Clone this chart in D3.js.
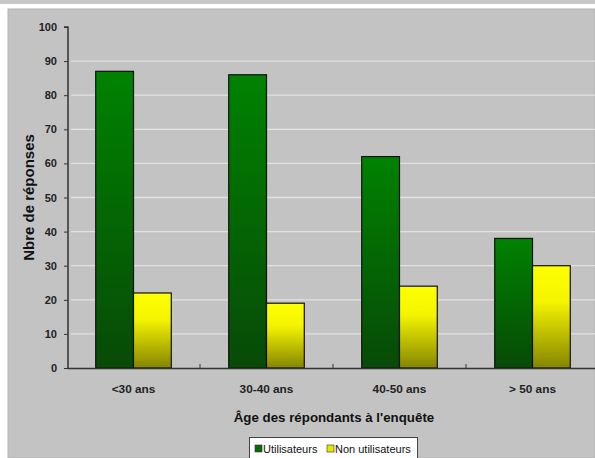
<!DOCTYPE html>
<html>
<head>
<meta charset="utf-8">
<script src="https://cdn.jsdelivr.net/npm/d3@7"></script>
<style>
  html, body { margin: 0; padding: 0; background: #ffffff; }
  svg { display: block; font-family: "Liberation Sans", Arial, sans-serif; }
</style>
</head>
<body>
<svg id="chart" width="595" height="458"></svg>
<script>
const categories = ["<30 ans", "30-40 ans", "40-50 ans", "> 50 ans"];
const seriesNames = ["Utilisateurs", "Non utilisateurs"];
const utilisateurs = [87, 86, 62, 38];
const nonUtilisateurs = [22, 19, 24, 30];
const yTicks = [0, 10, 20, 30, 40, 50, 60, 70, 80, 90, 100];
const xTitle = "Âge des répondants à l'enquête";
const yTitle = "Nbre de réponses";

const W = 595, H = 458;
const svg = d3.select("#chart");

// outer frame
svg.append("rect").attr("x", 0).attr("y", 0).attr("width", W).attr("height", 4).attr("fill", "#c6c6c6");
svg.append("rect").attr("x", 8).attr("y", 9).attr("width", W - 8).attr("height", H - 9)
  .attr("fill", "#c3c3c3").attr("stroke", "#b3b3b3").attr("stroke-width", 1);

const plotL = 68, plotR = 600, plotT = 27, plotB = 368;

const defs = svg.append("defs");
const gG = defs.append("linearGradient").attr("id", "gGreen").attr("x1", 0).attr("y1", 0).attr("x2", 0).attr("y2", 1);
gG.append("stop").attr("offset", "0%").attr("stop-color", "#008200");
gG.append("stop").attr("offset", "100%").attr("stop-color", "#074a07");
const gY = defs.append("linearGradient").attr("id", "gYellow").attr("x1", 0).attr("y1", 0).attr("x2", 0).attr("y2", 1);
gY.append("stop").attr("offset", "0%").attr("stop-color", "#ffff00");
gY.append("stop").attr("offset", "35%").attr("stop-color", "#f4f400");
gY.append("stop").attr("offset", "100%").attr("stop-color", "#858500");

const fills = ["url(#gGreen)", "url(#gYellow)"];
const legendColors = ["#0a6a0a", "#e6e600"];

const x0 = d3.scaleBand().domain(categories).range([plotL, plotR]).paddingInner(0).paddingOuter(0);
const x1 = d3.scaleBand().domain(seriesNames).range([0, x0.bandwidth()]).paddingInner(0).paddingOuter(0.76);
const y = d3.scaleLinear().domain([0, 100]).range([plotB, plotT]);

// gridlines
svg.append("g").selectAll("line").data(yTicks.filter(t => t > 0 && t < 100)).join("line")
  .attr("x1", plotL + 3).attr("x2", W)
  .attr("y1", d => y(d)).attr("y2", d => y(d))
  .attr("stroke", "#e2e2e2").attr("stroke-width", 1.3);

// bars
const data = categories.map((c, i) => ({ cat: c, vals: [utilisateurs[i], nonUtilisateurs[i]] }));
const groups = svg.append("g").selectAll("g").data(data).join("g")
  .attr("transform", d => `translate(${x0(d.cat) - 1},0)`);
groups.selectAll("rect").data(d => d.vals.map((v, j) => ({ v, s: seriesNames[j], j }))).join("rect")
  .attr("x", d => x1(d.s))
  .attr("width", x1.bandwidth())
  .attr("y", d => y(d.v))
  .attr("height", d => y(0) - y(d.v))
  .attr("fill", d => fills[d.j])
  .attr("stroke", "#111").attr("stroke-width", 1.2);

// y axis
const yAxis = d3.axisLeft(y).tickValues(yTicks).tickSize(4).tickPadding(7);
const gy = svg.append("g").attr("transform", `translate(${plotL},0)`).call(yAxis);
gy.select(".domain").attr("stroke", "#333").attr("stroke-width", 1.5).attr("d", `M-4,${plotT}H0V${plotB}`);
gy.selectAll(".tick line").attr("stroke", "#333");
gy.selectAll(".tick text").attr("font-size", 11).attr("font-weight", "bold").attr("fill", "#222")
  .attr("font-family", "Liberation Sans, Arial, sans-serif");

// x axis
const xAxis = d3.axisBottom(x0).tickSize(0).tickPadding(17);
const gx = svg.append("g").attr("transform", `translate(-1,${plotB})`).call(xAxis);
gx.select(".domain").attr("stroke", "#333").attr("stroke-width", 1.5);
gx.selectAll(".tick text").attr("font-size", 11.8).attr("font-weight", "bold").attr("fill", "#222")
  .attr("font-family", "Liberation Sans, Arial, sans-serif");
// category separators
svg.append("g").selectAll("line").data(categories.slice(1)).join("line")
  .attr("x1", d => x0(d) - 1).attr("x2", d => x0(d) - 1)
  .attr("y1", plotB - 4).attr("y2", plotB)
  .attr("stroke", "#333");

// titles
svg.append("text").attr("x", (plotL + plotR) / 2).attr("y", 422)
  .attr("text-anchor", "middle").attr("font-size", 13.3).attr("font-weight", "bold").attr("fill", "#111")
  .text(xTitle);
svg.append("text").attr("transform", `translate(34,${(plotT + plotB) / 2}) rotate(-90)`)
  .attr("text-anchor", "middle").attr("font-size", 15).attr("font-weight", "bold").attr("fill", "#111")
  .text(yTitle);

// legend
const lg = svg.append("g");
lg.append("rect").attr("x", 249.5).attr("y", 437.5).attr("width", 168).attr("height", 24)
  .attr("fill", "#ffffff").attr("stroke", "#444").attr("stroke-width", 1);
const legendItems = [{ name: seriesNames[0], x: 255, c: legendColors[0] }, { name: seriesNames[1], x: 327, c: legendColors[1] }];
legendItems.forEach(it => {
  lg.append("rect").attr("x", it.x).attr("y", 445).attr("width", 7).attr("height", 7)
    .attr("fill", it.c).attr("stroke", "#333").attr("stroke-width", 0.6);
  lg.append("text").attr("x", it.x + 8).attr("y", 453).attr("font-size", 11).attr("fill", "#111")
    .text(it.name);
});
</script>
</body>
</html>
